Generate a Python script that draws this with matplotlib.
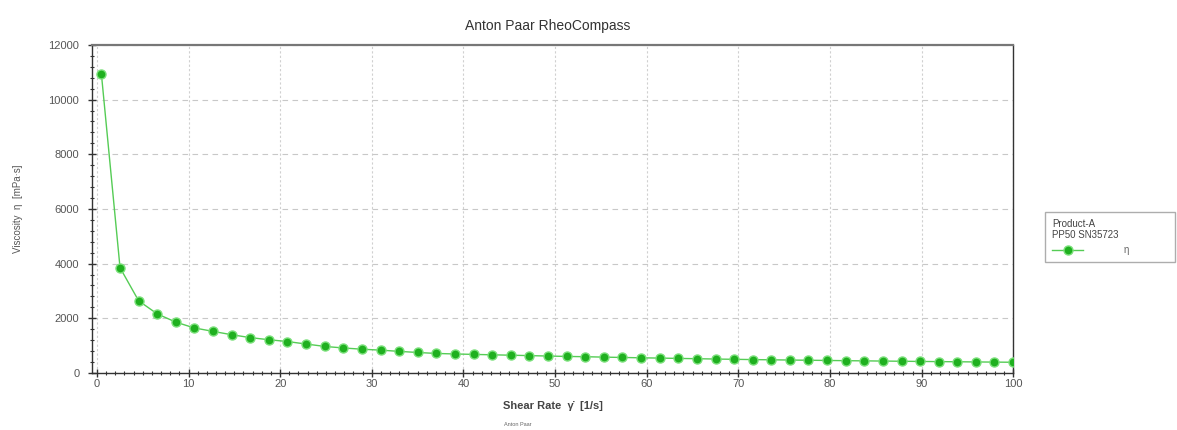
import matplotlib
matplotlib.use("Agg")
import matplotlib.pyplot as plt
from matplotlib.ticker import MultipleLocator

plt.rcParams['font.family'] = ['Liberation Sans', 'DejaVu Sans']

# shear rate [1/s]
shear_rate = [0.5, 2.53, 4.56, 6.59, 8.62, 10.6, 12.7, 14.7, 16.7, 18.8,
              20.8, 22.8, 24.9, 26.9, 28.9, 31.0, 33.0, 35.0, 37.0, 39.1,
              41.1, 43.1, 45.2, 47.2, 49.2, 51.3, 53.3, 55.3, 57.3, 59.4,
              61.4, 63.4, 65.5, 67.5, 69.5, 71.6, 73.6, 75.6, 77.6, 79.7,
              81.7, 83.7, 85.8, 87.8, 89.8, 91.9, 93.9, 95.9, 97.9, 100.0]
# viscosity [mPa.s]
viscosity = [10925, 3850, 2640, 2160, 1860, 1650, 1520, 1400, 1295, 1215,
             1150, 1060, 970, 915, 870, 835, 790, 750, 715, 695,
             680, 665, 650, 635, 620, 605, 595, 580, 568, 555,
             545, 533, 522, 510, 500, 490, 482, 474, 466, 458,
             450, 443, 436, 429, 422, 416, 410, 404, 398, 392]

series_label = "η"
legend_title = "Product-A\nPP50 SN35723"

fig = plt.figure(figsize=(11.77, 4.30), dpi=100)
ax = fig.add_axes([0.078, 0.1326, 0.783, 0.763])

line, = ax.plot(shear_rate, viscosity, color='#55cc55', lw=1.0, marker='o',
                markersize=6.5, markerfacecolor='#1fb01f',
                markeredgecolor='#7be07b', markeredgewidth=1.0,
                label=series_label, zorder=3)

ax.set_xlim(-0.55, 100)
ax.set_ylim(0, 12000)
ax.xaxis.set_major_locator(MultipleLocator(10))
ax.xaxis.set_minor_locator(MultipleLocator(1))
ax.yaxis.set_major_locator(MultipleLocator(2000))
ax.yaxis.set_minor_locator(MultipleLocator(400))
ax.tick_params(which='both', direction='inout', colors='#333333',
               labelcolor='#555555', labelsize=8)
ax.tick_params(which='major', length=6, width=1.0)
ax.tick_params(which='minor', length=3.5, width=0.8)
ax.tick_params(axis='y', pad=6)
ax.tick_params(axis='x', pad=1)

ax.grid(True, which='major', axis='y', color='#c8c8c8', ls=(0, (5, 4)), lw=0.8)
ax.grid(True, which='major', axis='x', color='#d0d0d0', ls=(0, (2, 2)), lw=0.8)

for side in ['left', 'bottom', 'right']:
    ax.spines[side].set_color('#333333')
    ax.spines[side].set_linewidth(1.0)
ax.spines['top'].set_color('#777777')
ax.spines['top'].set_linewidth(1.6)

ax.set_xlabel("Shear Rate  γ̇  [1/s]", fontsize=8, fontweight='bold',
              color='#444444', labelpad=9)
ax.set_ylabel("Viscosity  η  [mPa·s]", fontsize=7, color='#555555', labelpad=18)

fig.text(0.465, 0.94, "Anton Paar RheoCompass", ha='center', va='center',
         fontsize=10, color='#333333')
fig.text(0.44, 0.012, "Anton Paar", ha='center', va='center',
         fontsize=4, color='#666666')

leg = fig.legend(handles=[line], title=legend_title, loc='upper left',
                 bbox_to_anchor=(0.888, 0.487, 0.11, 0.02), mode='expand',
                 frameon=True, fancybox=False,
                 fontsize=7, title_fontsize=7, alignment='left',
                 handlelength=3.2, handletextpad=4.2, borderpad=0.7,
                 borderaxespad=0)
leg.get_frame().set_edgecolor('#999999')
leg.get_frame().set_linewidth(1.0)
for t in leg.get_texts():
    t.set_color('#666666')
leg.get_title().set_color('#444444')

fig.savefig("out.png", dpi=100)
